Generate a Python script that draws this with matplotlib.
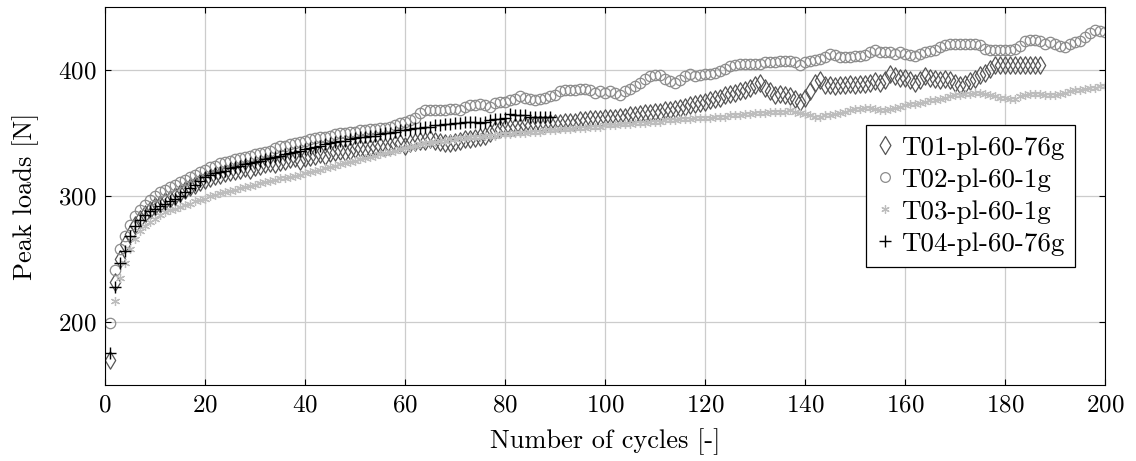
import matplotlib
matplotlib.use("Agg")
import matplotlib.pyplot as plt
from matplotlib.path import Path
import numpy as np

plt.rcParams['font.family'] = 'serif'
plt.rcParams['font.serif'] = ['cmr10']
plt.rcParams['mathtext.fontset'] = 'cm'
plt.rcParams['axes.unicode_minus'] = False
plt.rcParams['axes.formatter.use_mathtext'] = True

# peak load per cycle
t01 = [170, 232, 250, 262, 270, 277, 282, 286, 289, 292,
       294, 296, 298, 300, 302, 305, 307, 309, 311, 313,
       314, 316, 317, 318, 319, 320, 321, 322, 321, 323,
       324, 325, 326, 325, 327, 328, 329, 330, 328, 330,
       331, 332, 333, 332, 334, 335, 336, 335, 336, 337,
       338, 337, 338, 339, 340, 339, 340, 341, 342, 340,
       342, 343, 344, 344, 345, 344, 343, 342, 342, 343,
       344, 345, 345, 346, 347, 348, 350, 352, 353, 354,
       354, 355, 355, 356, 356, 357, 357, 357, 358, 358,
       358, 359, 359, 359, 360, 360, 361, 361, 361, 362,
       362, 362, 363, 363, 364, 364, 365, 366, 366, 367,
       367, 368, 368, 369, 370, 371, 372, 373, 374, 375,
       376, 377, 378, 380, 381, 382, 383, 384, 386, 388,
       390, 386, 383, 380, 381, 380, 379, 377, 375, 378,
       383, 390, 392, 388, 388, 387, 388, 388, 389, 388,
       389, 389, 390, 391, 390, 392, 397, 395, 394, 394,
       392, 390, 392, 395, 394, 393, 392, 393, 392, 390,
       388, 389, 391, 393, 396, 398, 401, 404, 404, 404,
       404, 404, 404, 404, 404, 404, 404]

t02 = [199, 241, 258, 268, 277, 284, 289, 293, 297, 300,
       303, 305, 307, 309, 311, 313, 315, 317, 319, 321,
       323, 324, 326, 327, 328, 329, 330, 331, 332, 333,
       334, 335, 336, 338, 340, 340, 341, 342, 343, 344,
       345, 346, 347, 347, 348, 349, 350, 350, 351, 351,
       352, 352, 353, 353, 354, 354, 355, 356, 358, 359,
       360, 362, 366, 368, 368, 368, 368, 368, 369, 369,
       368, 371, 372, 372, 373, 372, 371, 374, 375, 375,
       376, 377, 379, 378, 377, 376, 377, 378, 379, 380,
       383, 384, 384, 384, 385, 385, 384, 382, 383, 382,
       383, 382, 380, 383, 385, 387, 390, 393, 395, 396,
       396, 393, 391, 390, 392, 395, 397, 395, 396, 397,
       397, 398, 399, 401, 403, 404, 405, 405, 405, 405,
       405, 406, 406, 406, 407, 407, 407, 406, 404, 406,
       407, 408, 409, 410, 413, 412, 410, 410, 410, 411,
       411, 412, 414, 416, 414, 414, 414, 413, 414, 413,
       412, 411, 413, 414, 415, 416, 418, 420, 421, 421,
       421, 421, 421, 421, 420, 417, 416, 416, 416, 416,
       416, 417, 419, 423, 424, 424, 423, 421, 422, 421,
       419, 418, 421, 422, 423, 426, 429, 432, 431, 430]

t03 = [np.nan, 217, 235, 247, 258, 266, 272, 276, 279, 282,
       285, 287, 289, 290, 291, 293, 294, 296, 297, 298,
       300, 301, 302, 303, 304, 305, 306, 307, 308, 309,
       310, 311, 312, 313, 314, 314, 315, 316, 317, 318,
       319, 320, 321, 322, 323, 324, 325, 326, 327, 328,
       329, 330, 331, 332, 333, 334, 335, 336, 337, 338,
       339, 340, 341, 342, 342, 343, 344, 344, 345, 345,
       346, 346, 347, 347, 347, 348, 348, 348, 349, 349,
       349, 350, 350, 350, 351, 351, 351, 352, 352, 352,
       353, 353, 353, 354, 354, 354, 355, 355, 355, 356,
       356, 356, 357, 357, 357, 358, 358, 358, 359, 359,
       359, 360, 360, 360, 361, 361, 361, 362, 362, 362,
       362, 363, 363, 363, 364, 364, 364, 365, 365, 366,
       366, 366, 367, 367, 367, 367, 368, 367, 366, 365,
       364, 363, 363, 364, 364, 365, 366, 367, 368, 369,
       369, 370, 370, 369, 368, 368, 369, 370, 371, 372,
       373, 373, 374, 375, 376, 376, 377, 378, 379, 380,
       380, 381, 381, 382, 382, 381, 380, 379, 378, 378,
       377, 377, 379, 380, 381, 381, 381, 380, 380, 380,
       381, 382, 383, 384, 384, 385, 386, 386, 387, 387]

t04 = [175, 228, 247, 256, 268, 276, 281, 285, 288, 290,
       292, 294, 296, 298, 300, 303, 306, 309, 312, 315,
       317, 318, 319, 320, 322, 323, 324, 325, 326, 327,
       328, 329, 330, 331, 332, 333, 334, 335, 336, 337,
       338, 339, 340, 341, 342, 343, 344, 344, 345, 346,
       347, 347, 348, 348, 349, 350, 350, 351, 352, 352,
       353, 354, 354, 355, 355, 356, 356, 357, 357, 358,
       358, 359, 359, 359, 358, 359, 360, 361, 361, 362,
       365, 364, 364, 364, 363, 363, 363, 363, 363]

labels = ["T01-pl-60-76g", "T02-pl-60-1g", "T03-pl-60-1g", "T04-pl-60-76g"]

# tikz-like diamond, taller than wide
diamond = Path([(0, 1), (0.6, 0), (0, -1), (-0.6, 0), (0, 1)],
               [Path.MOVETO, Path.LINETO, Path.LINETO, Path.LINETO, Path.CLOSEPOLY])

fig = plt.figure(figsize=(11.36, 4.61), dpi=100)
ax = fig.add_axes([0.0924, 0.1649, 0.8803, 0.8199])

ax.plot(np.arange(1, len(t01) + 1), t01, linestyle='none', marker=diamond, markersize=12.5,
        markerfacecolor='none', markeredgecolor='#555555', markeredgewidth=0.9, label=labels[0])
ax.plot(np.arange(1, len(t02) + 1), t02, linestyle='none', marker='o', markersize=7.5,
        markerfacecolor='none', markeredgecolor='#8c8c8c', markeredgewidth=0.9, label=labels[1])
ax.plot(np.arange(1, len(t03) + 1), t03, linestyle='none', marker=(6, 2, 0), markersize=6.5,
        markeredgecolor='#bdbdbd', markeredgewidth=0.9, label=labels[2])
ax.plot(np.arange(1, len(t04) + 1), t04, linestyle='none', marker='+', markersize=9,
        markeredgecolor='black', markeredgewidth=1.0, label=labels[3])

ax.set_xlim(0, 200)
ax.set_ylim(150, 450)
ax.set_xticks(np.arange(0, 201, 20))
ax.set_yticks([200, 300, 400])
ax.tick_params(direction='in', top=True, right=True, labelsize=18, length=4)
ax.tick_params(axis='x', pad=7)
ax.tick_params(axis='y', pad=6)
ax.grid(True, color='#cccccc', linewidth=0.9)
ax.set_axisbelow(True)

ax.set_xlabel("Number of cycles [-]", fontsize=19, labelpad=8)
ax.set_ylabel("Peak loads [N]", fontsize=19, labelpad=14)

leg = ax.legend(loc='upper right', bbox_to_anchor=(0.97, 0.688), fontsize=19.5,
                fancybox=False, edgecolor='black', framealpha=1, handlelength=0.6,
                handletextpad=0.3, borderpad=0.4, labelspacing=0.3, borderaxespad=0)
leg.get_frame().set_linewidth(0.9)
for h, ms in zip(leg.get_lines(), [13, 7, 6, 9]):
    h.set_markersize(ms)

fig.savefig("out.png", dpi=100)
